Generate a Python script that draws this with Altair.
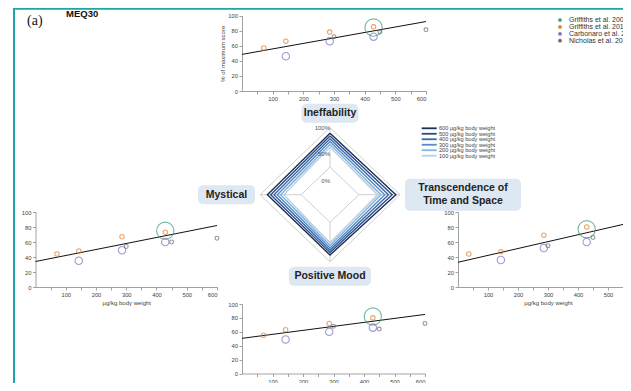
import math
import altair as alt
import pandas as pd

# ---------------------------------------------------------------- data
studies = ["Griffiths et al. 2006", "Griffiths et al. 2011",
           "Carbonaro et al. 2018", "Nicholas et al. 2018"]

# doses (µg/kg body weight) per study
dose_griffiths2006 = [429]
dose_griffiths2011 = [71, 143, 286, 429]
dose_carbonaro2018 = [143, 286, 429]
dose_nicholas2018 = [300, 450, 600]
# in the Transcendence panel the lowest Griffiths 2011 point sits further left
trans_dose_griffiths2011 = [36, 143, 286, 429]

# % of maximum score, per dimension, per study (same order as the doses)
ineff_griffiths2006 = [84]
ineff_griffiths2011 = [57, 66, 78, 85]
ineff_carbonaro2018 = [46, 66, 72]
ineff_nicholas2018 = [72, 78, 81]

myst_griffiths2006 = [75]
myst_griffiths2011 = [44, 48, 67, 73]
myst_carbonaro2018 = [35, 49, 60]
myst_nicholas2018 = [54, 60, 65]

trans_griffiths2006 = [77]
trans_griffiths2011 = [44, 47, 69, 80]
trans_carbonaro2018 = [36, 52, 60]
trans_nicholas2018 = [55, 66, 70]

mood_griffiths2006 = [82]
mood_griffiths2011 = [55, 63, 72, 80]
mood_carbonaro2018 = [49, 60, 66]
mood_nicholas2018 = [68, 64, 72]

# regression lines: value at dose 0 and at dose 600
fit_doses = [0, 600]
ineff_fit = [48.5, 92]
myst_fit = [34, 82]
trans_fit = [33, 88]
mood_fit = [50.6, 85]

# radar chart
radar_dims = ["Ineffability", "Transcendence of\nTime and Space", "Positive Mood", "Mystical"]
radar_doses = [600, 500, 400, 300, 200, 100]
radar_ineff = [86, 79, 72, 65, 58, 51]
radar_trans = [90, 81, 72, 63, 54, 45]
radar_mood = [83, 77, 71, 65, 59, 53]
radar_myst = [82, 74, 66, 58, 50, 42]
radar_rings = [0, 50, 100]
ring_labels = ["0%", "50%", "100%"]

x_ticks = [50, 100, 150, 200, 250, 300, 350, 400, 450, 500, 550, 600]
y_ticks = [0, 20, 40, 60, 80, 100]

# ---------------------------------------------------------------- style / layout
W, H = 615, 375
FONT = "Liberation Sans"
study_colors = ["#3b9c78", "#e3802f", "#7373c2", "#6b6b6b"]
study_sizes = [300, 20, 55, 15]
dose_colors = ["#1c2f57", "#2a4c88", "#3868ab", "#538cc7", "#84b3dd", "#b7d1e9"]
TEAL = "#1fa5a3"

default_doses = [dose_griffiths2006, dose_griffiths2011, dose_carbonaro2018, dose_nicholas2018]


def points_frame(vals, doses):
    rows = []
    for s, ds, vs in zip(studies, doses, vals):
        for d, v in zip(ds, vs):
            rows.append({"study": s, "dose": d, "score": v})
    return pd.DataFrame(rows)


def panel(vals, fit, xr, yr, xtitle, ytitle, doses=default_doses):
    xs = alt.Scale(domain=[0, 600], range=xr, nice=False, zero=False)
    ys = alt.Scale(domain=[0, 100], range=yr, nice=False, zero=False)
    fit_df = pd.DataFrame({"dose": fit_doses, "score": fit})
    line = alt.Chart(fit_df).mark_line(color="#111111", strokeWidth=1).encode(
        x=alt.X("dose:Q", scale=xs, title=xtitle,
                axis=alt.Axis(orient="bottom", offset=yr[0] - H, values=x_ticks,
                              labelExpr="datum.value % 100 === 0 ? datum.label : ''")),
        y=alt.Y("score:Q", scale=ys, title=ytitle,
                axis=alt.Axis(orient="left", offset=-xr[0], values=y_ticks)),
    )
    pts = alt.Chart(points_frame(vals, doses)).mark_point(filled=False, strokeWidth=1.1).encode(
        x=alt.X("dose:Q", scale=xs, axis=None),
        y=alt.Y("score:Q", scale=ys, axis=None),
        color=alt.Color("study:N", scale=alt.Scale(domain=studies, range=study_colors), legend=None),
        size=alt.Size("study:N", scale=alt.Scale(type="ordinal", domain=studies, range=study_sizes),
                      legend=None),
    )
    return [line, pts]


layers = []

# frame
layers.append(alt.Chart(pd.DataFrame({"a": [0]})).mark_rule(color=TEAL, strokeWidth=2).encode(
    x=alt.value(6), y=alt.value(0), y2=alt.value(H)))
layers.append(alt.Chart(pd.DataFrame({"a": [0]})).mark_rule(color=TEAL, strokeWidth=2).encode(
    x=alt.value(6), x2=alt.value(W), y=alt.value(0.8)))

UNIT = "µg/kg body weight"
layers += panel([ineff_griffiths2006, ineff_griffiths2011, ineff_carbonaro2018, ineff_nicholas2018],
                ineff_fit, [234, 418], [83, 7.5], "", "% of maximum score")
layers += panel([myst_griffiths2006, myst_griffiths2011, myst_carbonaro2018, myst_nicholas2018],
                myst_fit, [27.5, 209], [279, 204], UNIT, "")
layers += panel([trans_griffiths2006, trans_griffiths2011, trans_carbonaro2018, trans_nicholas2018],
                trans_fit, [450, 630], [279, 204], UNIT, "",
                doses=[dose_griffiths2006, trans_dose_griffiths2011, dose_carbonaro2018,
                       dose_nicholas2018])
layers += panel([mood_griffiths2006, mood_griffiths2011, mood_carbonaro2018, mood_nicholas2018],
                mood_fit, [234, 417], [365.5, 296], UNIT, "")

# ---------------------------------------------------------------- radar
CX, CY, RX, RY = 322, 186.7, 70, 67
HOLE = 70.0
RMAX = 100 + HOLE
rxs = alt.Scale(domain=[-RMAX, RMAX], range=[CX - RX, CX + RX], nice=False, zero=False)
rys = alt.Scale(domain=[-RMAX, RMAX], range=[CY + RY, CY - RY], nice=False, zero=False)
radar_vals = [radar_ineff, radar_trans, radar_mood, radar_myst]
UX, UY = RMAX / RX, RMAX / RY  # scale units per pixel

ring_rows = []
for rv in radar_rings:
    for k in range(5):
        ring_rows.append({"ring": rv, "k": k, "v": rv})
line_rows = []
for i, d in enumerate(radar_doses):
    for k in range(5):
        line_rows.append({"dose": d, "k": k, "v": radar_vals[k % 4][i]})
spoke_rows = [{"k": k} for k in range(4)]

polar = {"px": "(datum.v + %g) * sin(datum.k * PI / 2)" % HOLE,
         "py": "(datum.v + %g) * cos(datum.k * PI / 2)" % HOLE}

layers.append(alt.Chart(pd.DataFrame(ring_rows)).transform_calculate(**polar).mark_line(
    color="#cdc9c4", strokeWidth=0.9).encode(
    x=alt.X("px:Q", scale=rxs, axis=None), y=alt.Y("py:Q", scale=rys, axis=None),
    detail="ring:N", order="k:Q"))
layers.append(alt.Chart(pd.DataFrame(spoke_rows)).transform_calculate(
    x1="%g * sin(datum.k * PI / 2)" % HOLE, y1="%g * cos(datum.k * PI / 2)" % HOLE,
    x2="%g * sin(datum.k * PI / 2)" % RMAX, y2="%g * cos(datum.k * PI / 2)" % RMAX,
).mark_rule(color="#cdc9c4", strokeWidth=0.9).encode(
    x=alt.X("x1:Q", scale=rxs, axis=None), y=alt.Y("y1:Q", scale=rys, axis=None),
    x2="x2:Q", y2="y2:Q"))
layers.append(alt.Chart(pd.DataFrame(line_rows)).transform_calculate(**polar).mark_line(
    strokeWidth=1.4).encode(
    x=alt.X("px:Q", scale=rxs, axis=None), y=alt.Y("py:Q", scale=rys, axis=None),
    color=alt.Color("dose:O", scale=alt.Scale(domain=radar_doses, range=dose_colors), legend=None),
    detail="dose:O", order="k:Q"))
# ring labels sit a little below each ring's top vertex
label_drop_px = [14, 7, 0]
ldf = pd.DataFrame({"v": radar_rings, "lab": ring_labels, "k": [0, 0, 0],
                    "drop": [p * UY for p in label_drop_px]})
layers.append(alt.Chart(ldf).transform_calculate(
    px="0", py="datum.v + %g - datum.drop" % HOLE).mark_text(
    font=FONT, fontSize=6, color="#555555", align="right", baseline="middle", dx=0).encode(
    x=alt.X("px:Q", scale=rxs, axis=None), y=alt.Y("py:Q", scale=rys, axis=None), text="lab:N"))

# axis name boxes
box_w = [57, 116, 82, 57]
box_h = [19, 32, 19, 19]
GAP = 5
LINE_H = 13
brow = []
for k, name in enumerate(radar_dims):
    half = box_h[k] / 2 if k % 2 == 0 else box_w[k] / 2
    rr = RY if k % 2 == 0 else RX
    dist = rr + GAP + half
    ang = k * math.pi / 2
    cx, cy = dist * math.sin(ang), dist * math.cos(ang)
    nlines = name.count("\n") + 1
    brow.append({"name": name, "cx": cx * UX, "cy": cy * UY,
                 "ty": (cy + (nlines - 1) * LINE_H / 2) * UY,
                 "x1": (cx - box_w[k] / 2) * UX, "x2": (cx + box_w[k] / 2) * UX,
                 "y1": (cy - box_h[k] / 2) * UY, "y2": (cy + box_h[k] / 2) * UY})
bdf = pd.DataFrame(brow)
layers.append(alt.Chart(bdf).mark_rect(fill="#dde8f3", cornerRadius=5).encode(
    x=alt.X("x1:Q", scale=rxs, axis=None), x2="x2:Q",
    y=alt.Y("y1:Q", scale=rys, axis=None), y2="y2:Q"))
layers.append(alt.Chart(bdf).transform_calculate(lines="split(datum.name, '\\n')").mark_text(
    font=FONT, fontSize=10.5, fontWeight="bold", color="#222222", align="center",
    baseline="middle", lineHeight=LINE_H).encode(
    x=alt.X("cx:Q", scale=rxs, axis=None), y=alt.Y("ty:Q", scale=rys, axis=None),
    text="lines:N"))

# ---------------------------------------------------------------- legends
dscale = alt.Scale(type="point", domain=radar_doses, range=[120.3, 147.7], padding=0)
ddf = pd.DataFrame({"dose": radar_doses})
layers.append(alt.Chart(ddf).mark_rule(strokeWidth=1.8).encode(
    x=alt.value(413.7), x2=alt.value(428.7),
    y=alt.Y("dose:O", scale=dscale, axis=None),
    color=alt.Color("dose:O", scale=alt.Scale(domain=radar_doses, range=dose_colors), legend=None)))
layers.append(alt.Chart(ddf).transform_calculate(lab="datum.dose + ' µg/kg body weight'").mark_text(
    font=FONT, fontSize=5.6, color="#444444", align="left", baseline="middle").encode(
    x=alt.value(431), y=alt.Y("dose:O", scale=dscale, axis=None), text="lab:N"))

sscale = alt.Scale(type="point", domain=studies, range=[12, 32.7], padding=0)
sdf = pd.DataFrame({"study": studies})
layers.append(alt.Chart(sdf).mark_circle(size=14, opacity=1).encode(
    x=alt.value(552), y=alt.Y("study:N", scale=sscale, axis=None),
    color=alt.Color("study:N", scale=alt.Scale(domain=studies, range=study_colors), legend=None)))
layers.append(alt.Chart(sdf).mark_text(font=FONT, fontSize=7, color="#333333", align="left",
                                       baseline="middle").encode(
    x=alt.value(561), y=alt.Y("study:N", scale=sscale, axis=None), text="study:N"))

# ---------------------------------------------------------------- titles
layers.append(alt.Chart(pd.DataFrame({"t": ["(a)"]})).mark_text(
    font="Liberation Serif", fontSize=14, color="#111111", align="left", baseline="middle").encode(
    x=alt.value(19), y=alt.value(13), text="t:N"))
layers.append(alt.Chart(pd.DataFrame({"t": ["MEQ30"]})).mark_text(
    font=FONT, fontSize=9.5, fontWeight="bold", color="#111111", align="left", baseline="middle").encode(
    x=alt.value(58), y=alt.value(6), text="t:N"))

chart = alt.layer(*layers).resolve_scale(
    x="independent", y="independent", color="independent", size="independent"
).resolve_axis(x="independent", y="independent").properties(
    width=W, height=H, padding=0, autosize=alt.AutoSizeParams(type="none"), background="white"
).configure_view(stroke=None).configure_axis(
    grid=False, labelFont=FONT, titleFont=FONT, labelFontSize=5.8, labelColor="#444444",
    titleFontSize=6, titleColor="#444444", titleFontWeight="normal", tickSize=3,
    tickColor="#8a8a8a", domainColor="#8a8a8a", tickWidth=0.8, domainWidth=0.8,
    labelPadding=1.5, titlePadding=2
)

chart.save("out.html", embed_options={"renderer": "svg", "actions": False})
